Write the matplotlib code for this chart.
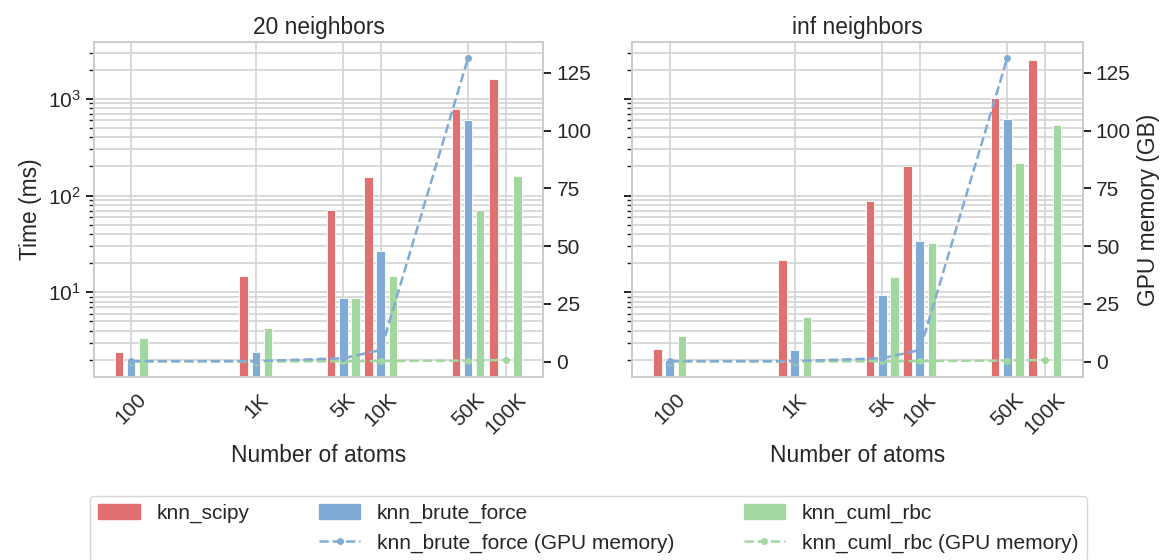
import numpy as np
import matplotlib
matplotlib.use('Agg')
import matplotlib.pyplot as plt
import seaborn as sns
from matplotlib.lines import Line2D
from matplotlib.patches import Patch
from matplotlib.ticker import NullLocator

# number of atoms on the x axis
atoms = [100, 1000, 5000, 10000, 50000, 100000]
atom_labels = ['100', '1K', '5K', '10K', '50K', '100K']

# run time (ms), 20 neighbors
scipy_20 = [2.4, 14.8, 71, 154, 778, 1620]
brute_20 = [2.0, 2.4, 8.8, 26.5, 604, np.nan]
cuml_20 = [3.4, 4.3, 8.8, 14.8, 71, 159]

# run time (ms), inf neighbors
scipy_inf = [2.6, 21.5, 88, 202, 1016, 2540]
brute_inf = [2.0, 2.55, 9.3, 34, 614, np.nan]
cuml_inf = [3.5, 5.5, 14.3, 32, 218, 537]

# GPU memory (GB), same for both panels
mem_brute = [0.3, 0.3, 1.5, 5.1, 131.6, np.nan]
mem_cuml = [0.1, 0.1, 0.2, 0.3, 0.5, 0.8]

methods = ['knn_scipy', 'knn_brute_force', 'knn_cuml_rbc']
colors = ['#e07070', '#80abd6', '#a2d8a0']
offsets = [0.8, 1.0, 1.25]

sns.set_theme(style='whitegrid', context='notebook', font_scale=15 / 11)
plt.rcParams['font.family'] = ['Liberation Sans', 'DejaVu Sans']
plt.rcParams['axes.edgecolor'] = '#cccccc'


def draw_panel(ax, times, memory, title, show_left=True, show_right_label=False):
    x = np.array(atoms, dtype=float)
    for values, color, factor in zip(times, colors, offsets):
        values = np.array(values, dtype=float)
        keep = ~np.isnan(values)
        xs = x[keep] * factor
        ax.bar(xs, values[keep], width=0.16 * xs, color=color,
               edgecolor='white', linewidth=0.6, zorder=2)
    ax.set_xscale('log')
    ax.set_yscale('log')
    ax.set_xlim(50, 200000)
    ax.set_ylim(1.34, 3840)
    ax.set_xticks(atoms, atom_labels, rotation=45)
    ax.xaxis.set_minor_locator(NullLocator())
    ax.grid(True, which='both', axis='y', color='#d3d3d3', linewidth=1.2)
    ax.grid(True, which='major', axis='x', color='#d3d3d3', linewidth=1.2)
    ax.tick_params(axis='y', which='both', left=True, color='#262626')
    ax.tick_params(axis='y', which='major', length=6, width=1.4)
    ax.tick_params(axis='y', which='minor', length=3.5, width=1.0)
    ax.tick_params(axis='x', bottom=False)
    if show_left:
        ax.set_ylabel('Time (ms)')
    else:
        ax.tick_params(labelleft=False)
    ax.set_xlabel('Number of atoms')
    ax.set_title(title)

    tw = ax.twinx()
    tw.grid(False)
    tw.plot(atoms, memory[1], ls='--', marker='o', ms=4, lw=1.8, color=colors[2])
    tw.plot(atoms, memory[0], ls='--', marker='o', ms=4, lw=1.8, color=colors[1])
    tw.set_yticks([0, 25, 50, 75, 100, 125])
    tw.tick_params(axis='y', right=True, length=6, width=1.4, color='#262626')
    if show_right_label:
        tw.set_ylabel('GPU memory (GB)')
    for sp in tw.spines.values():
        sp.set_color('#cccccc')
    return tw


fig = plt.figure(figsize=(11.64, 5.6), dpi=100)
ax1 = fig.add_axes([0.0805, 0.3273, 0.3863, 0.5971])
ax2 = fig.add_axes([0.5432, 0.3273, 0.3869, 0.5971], sharey=ax1)

draw_panel(ax1, [scipy_20, brute_20, cuml_20], [mem_brute, mem_cuml], '20 neighbors')
draw_panel(ax2, [scipy_inf, brute_inf, cuml_inf], [mem_brute, mem_cuml], 'inf neighbors',
           show_left=False, show_right_label=True)

handles = [
    Patch(color=colors[0]),
    Line2D([], [], alpha=0),
    Patch(color=colors[1]),
    Line2D([], [], ls='--', marker='o', ms=4, lw=1.8, color=colors[1]),
    Patch(color=colors[2]),
    Line2D([], [], ls='--', marker='o', ms=4, lw=1.8, color=colors[2]),
]
labels = ['knn_scipy', '', 'knn_brute_force', 'knn_brute_force (GPU memory)',
          'knn_cuml_rbc', 'knn_cuml_rbc (GPU memory)']
fig.legend(handles, labels, ncol=3, mode='expand', loc='upper left',
           bbox_to_anchor=(0.0773, 0.1148, 0.8563, 0), borderaxespad=0,
           frameon=True, edgecolor='#cccccc', fontsize=15)

fig.savefig('out.png', dpi=100)
